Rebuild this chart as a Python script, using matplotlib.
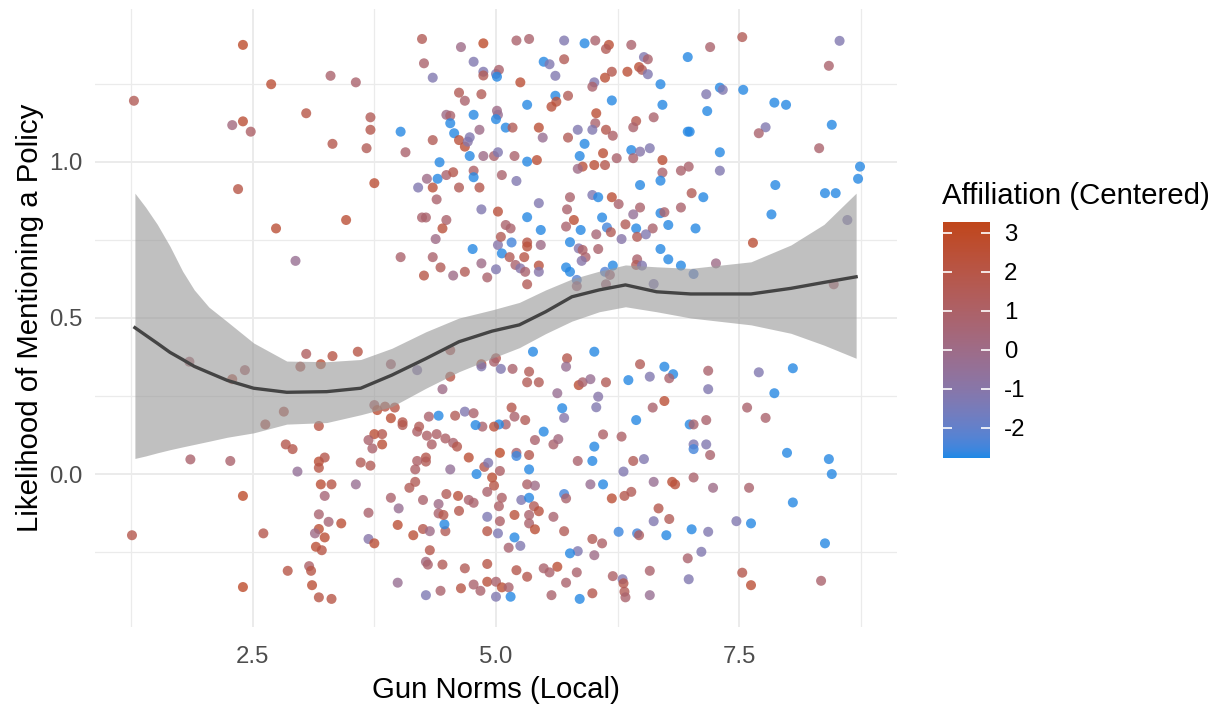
import numpy as np
import matplotlib
matplotlib.use("Agg")
import matplotlib.pyplot as plt
import matplotlib.colors as mcolors
from matplotlib.cm import ScalarMappable

plt.rcParams['font.family'] = ['Liberation Sans', 'DejaVu Sans']

# ---------------------------------------------------------------
# Respondents who mentioned a policy (outcome 1, vertically jittered)
# ---------------------------------------------------------------
upper_norms = [
    2.40, 1.28, 2.69, 3.30, 3.56, 3.05, 2.40, 2.29, 2.48, 3.32,
    2.35, 3.46, 2.74, 2.94, 4.24, 4.64, 4.87, 5.21, 5.34, 5.70,
    5.91, 6.02, 6.16, 6.13, 4.26, 4.35, 4.77, 4.87, 4.87, 5.00,
    5.03, 5.01, 5.25, 5.49, 5.55, 5.70, 5.61, 6.01, 5.99, 6.12,
    6.19, 6.35, 4.62, 4.68, 4.85, 5.32, 5.61, 5.57, 5.62, 5.74,
    6.19, 6.03, 6.02, 5.99, 6.13, 6.20, 4.49, 4.53, 4.77, 4.53,
    4.57, 4.62, 4.68, 4.71, 4.73, 4.83, 5.01, 5.02, 5.00, 5.10,
    5.17, 5.44, 5.48, 5.74, 5.84, 5.91, 5.86, 5.89, 5.84, 6.01,
    6.12, 6.10, 6.24, 4.35, 4.07, 4.02, 3.71, 3.71, 3.67, 3.75,
    4.42, 4.40, 4.49, 4.56, 4.29, 4.35, 4.20, 4.39, 4.62, 4.73,
    4.77, 4.77, 4.83, 4.87, 4.98, 5.02, 5.19, 5.32, 5.42, 5.06,
    5.21, 4.85, 5.02, 5.32, 5.44, 5.76, 5.73, 5.99, 6.05, 6.19,
    6.26, 6.09, 5.80, 4.49, 4.24, 4.28, 4.45, 4.38, 4.02, 4.35,
    4.43, 4.26, 4.56, 4.68, 4.85, 4.91, 5.00, 4.76, 5.02, 5.06,
    5.05, 5.16, 5.14, 5.20, 5.25, 5.30, 5.32, 5.32, 5.32, 5.29,
    5.46, 5.44, 5.44, 5.46, 5.15, 5.10, 5.72, 5.87, 5.76, 5.85,
    5.89, 5.92, 5.88, 6.03, 6.05, 6.14, 6.18, 6.29, 5.72, 5.76,
    5.83, 5.83, 6.12, 6.20, 6.17, 6.13, 7.53, 8.53, 8.42, 6.39,
    7.20, 6.52, 6.56, 6.47, 6.50, 6.56, 6.97, 6.69, 7.30, 7.33,
    7.16, 7.54, 7.86, 7.98, 6.71, 7.17, 6.44, 6.41, 6.62, 6.97,
    6.99, 7.77, 7.70, 8.45, 8.32, 6.39, 6.48, 6.41, 6.58, 7.30,
    6.71, 6.71, 6.90, 6.98, 7.30, 8.74, 8.72, 7.87, 6.48, 6.69,
    7.01, 7.13, 8.38, 8.49, 6.48, 6.41, 6.69, 6.73, 6.90, 7.83,
    8.61, 6.33, 6.44, 6.61, 6.77, 7.05, 6.45, 6.54, 7.64, 6.69,
    6.77, 6.90, 7.03, 7.26, 6.45, 6.44, 6.50, 6.62, 8.47,
]
upper_mention = [
    1.375, 1.196, 1.249, 1.276, 1.255, 1.156, 1.130, 1.118, 1.097, 1.058,
    0.913, 0.814, 0.787, 0.683, 1.394, 1.368, 1.380, 1.389, 1.394, 1.389,
    1.380, 1.389, 1.375, 1.362, 1.316, 1.270, 1.321, 1.289, 1.277, 1.282,
    1.295, 1.273, 1.255, 1.321, 1.313, 1.329, 1.276, 1.255, 1.241, 1.270,
    1.289, 1.289, 1.222, 1.196, 1.217, 1.183, 1.212, 1.177, 1.193, 1.212,
    1.197, 1.156, 1.124, 1.103, 1.103, 1.084, 1.151, 1.148, 1.151, 1.124,
    1.092, 1.070, 1.049, 1.065, 1.079, 1.103, 1.164, 1.151, 1.137, 1.110,
    1.110, 1.110, 1.078, 1.078, 1.103, 1.058, 1.019, 0.985, 0.978, 0.990,
    0.990, 1.028, 1.012, 1.070, 1.031, 1.097, 1.143, 1.103, 1.044, 0.932,
    0.999, 0.946, 0.958, 0.967, 0.946, 0.918, 0.918, 0.880, 0.918, 1.019,
    0.972, 0.951, 0.918, 1.019, 1.019, 1.031, 1.019, 1.001, 1.006, 0.958,
    0.939, 0.848, 0.841, 0.823, 0.868, 0.887, 0.848, 0.894, 0.887, 0.887,
    0.865, 0.822, 0.814, 0.814, 0.822, 0.822, 0.787, 0.753, 0.695, 0.695,
    0.662, 0.636, 0.636, 0.648, 0.675, 0.630, 0.656, 0.721, 0.734, 0.707,
    0.760, 0.742, 0.695, 0.670, 0.659, 0.648, 0.608, 0.742, 0.729, 0.695,
    0.734, 0.668, 0.648, 0.782, 0.787, 0.798, 0.793, 0.782, 0.743, 0.723,
    0.718, 0.695, 0.683, 0.768, 0.721, 0.790, 0.775, 0.753, 0.662, 0.648,
    0.622, 0.602, 0.648, 0.668, 0.638, 0.608, 1.400, 1.388, 1.308, 1.375,
    1.368, 1.336, 1.329, 1.304, 1.295, 1.281, 1.336, 1.249, 1.238, 1.231,
    1.217, 1.231, 1.190, 1.183, 1.183, 1.163, 1.131, 1.111, 1.143, 1.097,
    1.097, 1.111, 1.092, 1.119, 1.044, 1.038, 1.033, 1.012, 1.044, 1.031,
    1.006, 0.966, 0.972, 0.985, 0.972, 0.985, 0.946, 0.926, 0.926, 0.940,
    0.900, 0.887, 0.900, 0.900, 0.854, 0.832, 0.836, 0.839, 0.854, 0.832,
    0.814, 0.800, 0.787, 0.787, 0.798, 0.787, 0.760, 0.768, 0.741, 0.721,
    0.688, 0.668, 0.641, 0.675, 0.688, 0.670, 0.668, 0.609, 0.608,
]
upper_affil = [
    2.8, 1.5, 2.5, 0.8, 0.8, 2.0, 2.5, 0.3, 1.0, 1.8,
    2.0, 2.5, 2.5, -0.3, 1.5, 0.0, 2.8, 0.8, 0.8, -1.2,
    -2.7, 0.8, 2.5, 1.5, 0.8, -1.2, -1.2, -1.2, 1.5, -1.2,
    0.8, -2.7, 2.5, -2.7, -1.2, 1.5, -1.2, -1.2, 0.8, 2.5,
    1.8, 2.5, 1.5, 0.8, 1.5, -2.7, -2.7, 2.3, 2.3, 1.5,
    -2.7, 2.5, 0.8, -1.2, 1.8, 1.0, 0.0, 0.8, -2.7, -2.7,
    -2.7, 2.3, 2.5, -1.0, -1.2, 0.0, 0.0, -0.3, -2.7, -2.7,
    1.5, 2.5, -0.3, 1.5, -1.2, -2.7, -2.7, 2.3, 0.0, 2.5,
    1.8, 2.5, 0.8, 1.5, 0.8, -2.7, 1.5, 1.8, 1.5, 2.5,
    -2.7, -2.7, 0.8, 1.8, 0.0, 2.3, -1.2, 0.8, 1.5, -2.7,
    1.0, -2.7, 1.8, 0.0, 0.8, -1.2, 0.8, -2.7, 2.5, 0.8,
    -1.2, -1.2, 2.3, -2.7, -1.2, 0.8, 0.8, -1.2, -2.7, 2.5,
    0.8, -2.7, 2.5, 0.8, 0.8, 0.8, 2.3, 0.0, 0.8, 0.8,
    1.5, 2.0, 0.0, 1.5, 0.0, 0.8, -1.2, -2.7, -1.0, -2.7,
    1.5, -2.45, 1.5, 0.8, -1.0, 0.8, 1.5, 2.0, 2.3, 2.0,
    0.0, 2.2, -1.0, -2.7, 0.8, 0.8, 0.8, -2.7, -2.7, -1.0,
    1.0, 0.8, -1.0, 0.5, 0.8, -2.45, 1.5, -1.0, -2.7, -2.7,
    -2.2, 0.5, -2.2, -2.7, 0.5, 0.5, 1.5, -1.2, 0.8, 0.8,
    0.8, -1.2, 0.8, 2.5, 1.5, -1.2, -2.7, -2.7, -2.7, -1.2,
    -1.2, -2.7, -2.7, -2.7, -2.7, -2.7, 1.8, 0.8, 0.8, -2.7,
    -2.7, -1.2, 0.8, -2.7, 0.8, -2.7, -1.0, 0.8, -1.2, -2.7,
    2.5, 0.8, 0.8, 0.8, -1.2, -2.7, -2.7, -2.7, -2.7, -2.7,
    1.5, -2.7, -2.7, -2.7, 0.8, -0.5, -2.7, 0.8, 0.8, -2.7,
    -1.2, 1.5, -2.7, 0.8, -2.7, -2.7, 1.5, -1.2, 2.5, -2.7,
    -2.7, -2.7, -2.2, 0.0, 0.8, 1.5, -1.2, -1.2, 0.8,
]

# ---------------------------------------------------------------
# Respondents who did not mention a policy (outcome 0, jittered)
# ---------------------------------------------------------------
lower_norms = [
    3.05, 3.32, 3.58, 2.99, 3.20, 1.85, 2.42, 2.29, 2.82, 2.63,
    3.18, 2.84, 2.91, 1.86, 2.27, 3.18, 3.24, 3.18, 2.96, 3.61,
    3.20, 3.31, 3.56, 2.40, 3.24, 3.18, 3.28, 3.41, 3.18, 3.14,
    3.24, 3.15, 3.21, 1.26, 2.61, 3.08, 3.10, 2.86, 3.11, 2.40,
    3.18, 3.31, 3.75, 3.83, 3.83, 3.69, 3.73, 3.71, 4.04, 4.19,
    4.29, 4.39, 4.48, 4.34, 4.56, 4.60, 4.72, 4.28, 4.28, 4.19,
    4.17, 4.53, 4.88, 4.92, 4.80, 4.96, 4.98, 5.04, 5.04, 5.21,
    5.21, 5.34, 5.34, 4.91, 5.06, 5.03, 5.26, 5.34, 5.32, 5.40,
    5.39, 5.44, 5.34, 5.34, 5.40, 5.19, 4.91, 5.04, 4.91, 5.02,
    5.19, 5.25, 5.13, 5.59, 5.70, 5.63, 5.49, 5.55, 5.83, 5.72,
    5.57, 5.86, 5.99, 5.21, 5.32, 4.91, 4.91, 5.00, 5.06, 5.13,
    5.00, 5.15, 4.77, 4.84, 4.64, 4.68, 4.45, 4.28, 4.30, 4.43,
    4.28, 3.99, 4.32, 3.69, 3.75, 4.15, 4.25, 4.32, 4.48, 4.47,
    4.41, 4.46, 4.41, 3.99, 3.69, 4.00, 3.92, 4.25, 4.11, 4.17,
    4.49, 4.61, 4.62, 4.72, 4.77, 5.59, 5.64, 5.40, 5.49, 6.10,
    6.29, 6.01, 5.99, 5.84, 6.31, 5.97, 6.10, 5.70, 5.72, 6.19,
    6.32, 6.26, 5.99, 6.09, 6.01, 5.84, 5.76, 6.20, 6.30, 6.31,
    6.32, 6.33, 3.92, 4.19, 4.53, 4.53, 4.45, 4.85, 4.85, 5.00,
    4.98, 5.05, 5.17, 5.34, 5.32, 5.44, 5.38, 5.73, 5.72, 6.01,
    5.85, 5.89, 5.97, 6.13, 6.36, 5.63, 6.05, 6.03, 5.68, 5.70,
    5.16, 5.19, 5.30, 5.10, 5.03, 4.98, 4.86, 4.79, 4.68, 4.77,
    4.58, 4.41, 4.31, 4.21, 3.75, 3.78, 3.86, 3.96, 3.92, 4.04,
    6.48, 6.73, 6.82, 6.78, 6.58, 7.18, 7.18, 7.70, 8.05, 7.86,
    6.73, 6.61, 7.58, 7.77, 6.44, 7.16, 6.99, 7.03, 7.03, 7.03,
    7.16, 7.20, 7.99, 8.42, 8.45, 6.52, 6.41, 6.62, 6.81, 6.84,
    7.03, 7.23, 7.60, 6.39, 8.05, 6.67, 6.78, 6.62, 7.47, 7.62,
    6.45, 6.47, 6.75, 7.01, 7.18, 8.38, 7.11, 6.97, 6.58, 6.98,
    7.53, 7.62, 8.34, 6.58,
]
lower_mention = [
    0.385, 0.378, 0.392, 0.344, 0.352, 0.360, 0.333, 0.304, 0.200, 0.159,
    0.154, 0.095, 0.080, 0.047, 0.042, 0.040, 0.053, 0.020, 0.008, 0.037,
    -0.033, -0.033, -0.033, -0.070, -0.070, -0.129, -0.153, -0.158, -0.176, -0.190,
    -0.203, -0.233, -0.244, -0.196, -0.190, -0.295, -0.310, -0.310, -0.356, -0.362,
    -0.395, -0.400, 0.128, 0.128, 0.095, 0.109, 0.082, 0.027, 0.157, 0.136,
    0.123, 0.128, 0.114, 0.095, 0.100, 0.088, 0.053, 0.053, 0.040, 0.042,
    0.015, 0.015, 0.023, 0.036, 0.000, -0.011, -0.037, 0.010, 0.068, 0.068,
    0.058, 0.061, 0.015, -0.057, -0.076, -0.103, -0.083, -0.076, -0.033, -0.037,
    -0.103, -0.119, -0.131, -0.158, -0.177, -0.131, -0.137, -0.151, -0.183, -0.190,
    -0.203, -0.230, -0.236, -0.137, -0.183, -0.297, -0.302, -0.315, -0.315, -0.348,
    -0.388, -0.400, -0.382, -0.308, -0.329, -0.288, -0.345, -0.345, -0.363, -0.363,
    -0.393, -0.393, -0.354, -0.374, -0.366, -0.302, -0.290, -0.281, -0.290, -0.374,
    -0.388, -0.348, -0.244, -0.208, -0.222, -0.196, -0.176, -0.183, -0.183, -0.161,
    -0.126, -0.131, -0.096, -0.163, -0.124, -0.110, -0.076, -0.083, -0.044, -0.025,
    -0.064, -0.070, -0.118, -0.083, -0.092, 0.095, 0.112, 0.109, 0.136, 0.127,
    0.120, 0.088, 0.042, 0.042, 0.008, -0.033, -0.033, -0.064, -0.078, -0.078,
    -0.070, -0.185, -0.208, -0.222, -0.260, -0.247, -0.254, -0.327, -0.337, -0.350,
    -0.377, -0.395, 0.352, 0.333, 0.397, 0.312, 0.272, 0.352, 0.345, 0.371,
    0.360, 0.337, 0.337, 0.328, 0.294, 0.294, 0.392, 0.371, 0.344, 0.392,
    0.285, 0.294, 0.304, 0.294, 0.301, 0.259, 0.248, 0.214, 0.211, 0.180,
    0.213, 0.184, 0.173, 0.159, 0.159, 0.152, 0.152, 0.157, 0.200, 0.195,
    0.187, 0.187, 0.184, 0.152, 0.221, 0.205, 0.216, 0.213, 0.179, 0.166,
    0.352, 0.344, 0.320, 0.307, 0.312, 0.331, 0.272, 0.326, 0.339, 0.259,
    0.234, 0.213, 0.213, 0.180, 0.173, 0.173, 0.159, 0.159, 0.095, 0.080,
    0.095, 0.061, 0.068, 0.048, 0.000, 0.048, 0.042, -0.025, -0.025, -0.033,
    -0.011, -0.044, -0.044, -0.057, -0.091, -0.110, -0.144, -0.151, -0.151, -0.158,
    -0.190, -0.196, -0.196, -0.177, -0.185, -0.222, -0.249, -0.270, -0.310, -0.337,
    -0.316, -0.356, -0.342, -0.388,
]
lower_affil = [
    1.2, 2.0, 2.0, 1.8, 2.5, 0.8, 1.0, 2.0, 1.8, 1.8,
    2.0, 1.8, 1.8, 0.8, 0.8, 2.5, 1.8, 2.0, -0.5, 1.5,
    2.5, 2.0, -0.3, 2.8, 0.5, 0.7, 0.5, 2.5, 2.5, 0.0,
    2.5, 2.5, 2.0, 1.8, 1.8, 1.0, 2.0, 2.0, 2.5, 2.8,
    2.0, 2.0, 2.5, 1.8, 2.5, 0.8, 0.8, 1.5, 1.5, 1.0,
    1.0, 1.0, 1.0, 1.0, 0.8, 1.8, 2.5, 1.8, 1.5, 1.0,
    1.0, -0.5, 1.8, -1.2, -2.7, 2.5, 2.0, 1.0, 2.8, 0.8,
    -2.55, 1.8, -2.7, 0.8, 1.0, 1.0, -1.2, -2.7, 1.0, 0.0,
    1.5, 2.2, 0.8, 0.8, 2.5, 2.3, -1.3, 1.0, 2.0, -1.3,
    -2.7, -1.2, 0.7, 0.7, 1.5, 2.5, 0.8, 0.8, 0.8, 0.8,
    0.8, -2.7, 1.8, 1.8, 1.8, 2.0, 2.3, 0.8, 2.5, 0.8,
    -1.2, -2.7, 0.8, 0.8, 2.0, 1.5, 1.5, 0.3, 0.8, 0.8,
    -1.3, -0.3, 1.8, -1.0, 2.5, 2.5, 1.8, 0.0, 1.5, -2.7,
    0.8, 1.8, 0.0, 2.5, 0.8, -0.3, 0.8, 0.8, 1.5, 1.5,
    1.5, 2.3, 1.8, 0.8, 0.8, 0.8, 0.3, 0.8, -2.7, 1.0,
    1.0, -2.7, -2.7, 0.8, -1.2, -0.3, -2.7, -2.45, 0.8, 2.5,
    1.8, -2.55, 1.5, 1.0, 0.0, -1.2, -2.7, 1.0, -1.2, 1.8,
    1.5, 0.8, 0.8, -1.0, 1.5, 2.0, 0.0, 2.3, -1.2, 1.5,
    0.8, -1.2, 0.8, 1.5, 1.5, 1.5, -2.7, 1.8, -0.3, -2.7,
    2.5, 0.8, -0.3, 1.5, -2.7, -0.3, -1.0, -1.2, -2.7, -1.0,
    1.8, 0.8, 1.5, 0.8, -2.7, 2.3, 0.8, -2.7, -1.2, 0.8,
    1.5, -2.7, 0.8, 1.5, 1.2, 2.5, 2.0, 2.0, 2.5, 1.8,
    1.5, -2.7, -2.7, 0.8, -1.2, 0.8, -1.2, -1.2, -2.7, -2.7,
    2.5, 0.8, 0.8, 0.8, -2.7, 0.8, -2.7, 0.8, -1.2, -2.45,
    -1.2, 0.8, -2.7, -2.7, -2.7, -1.2, 1.5, -0.3, 2.5, 2.3,
    0.8, 0.0, 0.8, 1.5, -2.7, 1.8, 1.5, -1.2, -1.2, -2.7,
    -2.45, 1.2, -2.7, -2.7, -1.2, -2.7, -1.2, 0.8, 0.8, -1.2,
    1.8, 2.5, 0.8, -0.3,
]

# ---------------------------------------------------------------
# Loess fit with its confidence band
# ---------------------------------------------------------------
smooth_x = [1.29, 1.40, 1.52, 1.65, 1.78, 1.90, 2.05, 2.24, 2.51, 2.85,
            3.26, 3.61, 3.93, 4.28, 4.62, 4.96, 5.24, 5.51, 5.78, 6.06,
            6.33, 6.65, 7.00, 7.62, 8.03, 8.37, 8.70]
smooth_fit = [0.469, 0.445, 0.419, 0.390, 0.367, 0.345, 0.325, 0.300, 0.275, 0.262,
              0.264, 0.275, 0.317, 0.370, 0.424, 0.458, 0.478, 0.520, 0.568, 0.590,
              0.606, 0.584, 0.577, 0.577, 0.595, 0.614, 0.632]
smooth_lo = [0.050, 0.058, 0.068, 0.078, 0.087, 0.095, 0.105, 0.118, 0.132, 0.160,
             0.165, 0.190, 0.216, 0.275, 0.328, 0.371, 0.405, 0.450, 0.490, 0.520,
             0.536, 0.520, 0.500, 0.478, 0.451, 0.413, 0.371]
smooth_hi = [0.900, 0.855, 0.800, 0.730, 0.650, 0.590, 0.535, 0.488, 0.420, 0.362,
             0.360, 0.367, 0.403, 0.456, 0.500, 0.526, 0.550, 0.590, 0.625, 0.650,
             0.670, 0.664, 0.659, 0.680, 0.734, 0.800, 0.900]

x_ticks = [2.5, 5.0, 7.5]
x_tick_labels = ["2.5", "5.0", "7.5"]
y_ticks = [0.0, 0.5, 1.0]
y_tick_labels = ["0.0", "0.5", "1.0"]
affil_ticks = [-2, -1, 0, 1, 2, 3]
affil_limits = (-2.77, 3.28)

_M = np.array([[0.4124, 0.3576, 0.1805],
               [0.2126, 0.7152, 0.0722],
               [0.0193, 0.1192, 0.9505]])
_WHITE = np.array([0.95047, 1.0, 1.08883])


def _srgb_to_lab(color):
    rgb = np.array(mcolors.to_rgb(color))
    lin = np.where(rgb <= 0.04045, rgb / 12.92, ((rgb + 0.055) / 1.055) ** 2.4)
    xyz = _M @ lin / _WHITE
    d = 6 / 29
    f = np.where(xyz > d ** 3, np.cbrt(xyz), xyz / (3 * d * d) + 4 / 29)
    return np.array([116 * f[1] - 16, 500 * (f[0] - f[1]), 200 * (f[1] - f[2])])


def _lab_to_srgb(lab):
    d = 6 / 29
    fy = (lab[:, 0] + 16) / 116
    fx = fy + lab[:, 1] / 500
    fz = fy - lab[:, 2] / 200
    f = np.stack([fx, fy, fz], axis=1)
    xyz = np.where(f > d, f ** 3, 3 * d * d * (f - 4 / 29)) * _WHITE
    lin = np.clip(xyz @ np.linalg.inv(_M).T, 0, None)
    rgb = np.where(lin <= 0.0031308, 12.92 * lin, 1.055 * lin ** (1 / 2.4) - 0.055)
    return np.clip(rgb, 0, 1)


def lab_gradient(low, high, n=256):
    a, b = _srgb_to_lab(low), _srgb_to_lab(high)
    t = np.linspace(0, 1, n)[:, None]
    return mcolors.ListedColormap(_lab_to_srgb(a + (b - a) * t))


cmap = lab_gradient("#1E88E5", "#C0461A")
norm = mcolors.Normalize(*affil_limits)

W, H = 1219, 708
fig = plt.figure(figsize=(W / 100, H / 100), dpi=100)
ax = fig.add_axes([95 / W, (H - 627) / H, 802 / W, 618 / H])

ax.set_xlim(0.88, 9.12)
ax.set_ylim(-0.49, 1.49)
ax.set_xticks(x_ticks)
ax.set_xticklabels(x_tick_labels)
ax.set_xticks([1.25, 3.75, 6.25, 8.75], minor=True)
ax.set_yticks(y_ticks)
ax.set_yticklabels(y_tick_labels)
ax.set_yticks([-0.25, 0.25, 0.75, 1.25], minor=True)
ax.grid(which="major", color="#EBEBEB", linewidth=1.4)
ax.grid(which="minor", color="#EBEBEB", linewidth=0.9)
ax.set_axisbelow(True)
for s in ax.spines.values():
    s.set_visible(False)
ax.tick_params(which="both", length=0)
ax.tick_params(axis="both", labelsize=17.3, labelcolor="#4D4D4D")
ax.tick_params(axis="x", pad=14)
ax.tick_params(axis="y", pad=9)

for xs, ys, cs in ((upper_norms, upper_mention, upper_affil),
                   (lower_norms, lower_mention, lower_affil)):
    ax.scatter(xs, ys, c=cs, cmap=cmap, norm=norm, s=52, alpha=0.8,
               linewidths=0, zorder=2)

ax.fill_between(smooth_x, smooth_lo, smooth_hi, color="#9A9A9A", alpha=0.62,
                linewidth=0, zorder=3)
ax.plot(smooth_x, smooth_fit, color="#444444", linewidth=2.4, zorder=4)

ax.set_xlabel("Gun Norms (Local)", fontsize=21.2, color="black")
ax.xaxis.label.set_verticalalignment("center")
ax.xaxis.set_label_coords(0.5, -(690 - 627) / 618)
ax.set_ylabel("Likelihood of Mentioning a Policy", fontsize=21.2, color="black")
ax.yaxis.label.set_verticalalignment("center")
ax.yaxis.set_label_coords((30 - 95) / 802, 0.5)

# Colour bar legend
cax = fig.add_axes([943 / W, (H - 458) / H, 47 / W, 236 / H])
sm = ScalarMappable(norm=norm, cmap=cmap)
cb = fig.colorbar(sm, cax=cax)
cb.outline.set_visible(False)
cb.set_ticks(affil_ticks)
cb.set_ticklabels([str(t) for t in affil_ticks])
cax.tick_params(length=0, labelsize=17.3, labelcolor="black", pad=10)
cax.hlines(affil_ticks, 0.0, 0.2, colors="white", linewidth=1.2)
cax.hlines(affil_ticks, 0.8, 1.0, colors="white", linewidth=1.2)
cax.set_xlim(0, 1)
fig.text(942 / W, 1 - 196 / H, "Affiliation (Centered)", fontsize=21.2,
         ha="left", va="center", color="black")

fig.savefig("out.png", dpi=100)
